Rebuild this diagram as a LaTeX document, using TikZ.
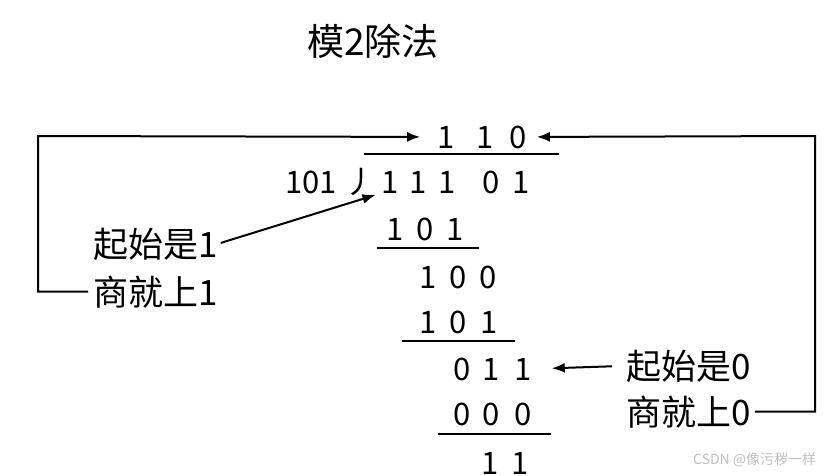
\documentclass[tikz,border=0pt]{standalone}
\usepackage{fontspec}
\setmainfont{Noto Sans CJK SC}
\usetikzlibrary{arrows.meta}

\begin{document}
\begin{tikzpicture}[x=1pt, y=-1pt,
        dig/.style={anchor=base, inner sep=0pt, font=\fontsize{31}{36}\selectfont},
        lbl/.style={anchor=base west, inner sep=0pt, font=\fontsize{35}{40}\selectfont},
        arr/.style={line width=2pt, -{Latex[length=13pt, width=10pt]}},
        bar/.style={line width=1.3pt}]
    \useasboundingbox (0, 0) rectangle (836, 475);
    \node [anchor=base, inner sep=0pt, font=\fontsize{37}{42}\selectfont] (title) at (373, 55) {模2除法};
    % quotient
    \foreach \x/\d [count=\i] in {446/1, 485/1, 518/0}
        \node [dig] (q\i) at (\x, 148) {\d};
    \draw [bar] (364, 154) -- (559, 154);
    % divisor and dividend
    \node [dig] (dvs) at (311, 193) {101};
    \node [dig] (hook) at (360, 193) {丿};
    \foreach \x/\d [count=\i] in {390/1, 418/1, 447/1, 491/0, 521/1}
        \node [dig] (d\i) at (\x, 193) {\d};
    % steps
    \foreach \x/\d [count=\i] in {395/1, 425/0, 455/1}
        \node [dig] (a\i) at (\x, 240) {\d};
    \draw [bar] (377, 248) -- (479, 248);
    \foreach \x/\d [count=\i] in {428/1, 458/0, 488/0}
        \node [dig] (b\i) at (\x, 288) {\d};
    \foreach \x/\d [count=\i] in {428/1, 458/0, 489/1}
        \node [dig] (c\i) at (\x, 333) {\d};
    \draw [bar] (402, 341) -- (515, 341);
    \foreach \x/\d [count=\i] in {462/0, 491/1, 523/1}
        \node [dig] (e\i) at (\x, 380) {\d};
    \foreach \x/\d [count=\i] in {462/0, 491/0, 523/0}
        \node [dig] (f\i) at (\x, 425) {\d};
    \draw [bar] (438, 434) -- (551, 434);
    \foreach \x/\d [count=\i] in {490/1, 520/1}
        \node [dig] (g\i) at (\x, 474) {\d};
    % notes
    \node [lbl] (start1) at (93, 257) {起始是1};
    \node [lbl] (quot1) at (93, 305) {商就上1};
    \node [lbl] (start0) at (626, 379) {起始是0};
    \node [lbl] (quot0) at (626, 425) {商就上0};
    \draw [arr, shorten <=3pt, shorten >=6pt] (start1.east) -- (d1.south west);
    \draw [arr, shorten <=5pt, shorten >=17pt] (quot1.west) -| (38, 136) -- (q1.west);
    \draw [arr, shorten <=14pt, shorten >=20pt] (start0.west) -- (e3.east);
    \draw [arr, shorten <=4pt, shorten >=10pt] (quot0.east) -| (815, 136) -- (q3.east);
    \node [anchor=base west, inner sep=0pt, text=black!25, font=\fontsize{14}{16}\selectfont] (mark) at (693, 464) {CSDN @像污秽一样};
\end{tikzpicture}
\end{document}
